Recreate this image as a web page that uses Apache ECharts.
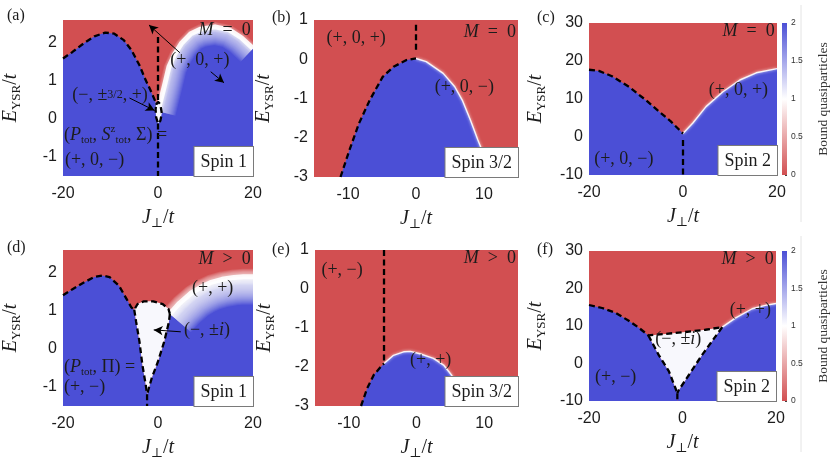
<!DOCTYPE html>
<html>
<head>
<meta charset="utf-8">
<script src="https://cdn.jsdelivr.net/npm/echarts@6/dist/echarts.min.js"></script>
<style>
  html, body { margin: 0; background: #fff; }
  #chart { width: 831px; height: 467px; }
</style>
</head>
<body>
<div id="chart"></div>
<script>
// ---- axis ranges and tick labels, panels (a)..(f)
const xRanges = [[-20, 20], [-15, 15], [-20, 20], [-20, 20], [-15, 15], [-20, 20]];
const yRanges = [[-1.5, 2.6], [-3, 1], [-10, 30], [-1.5, 2.6], [-3, 1], [-10, 30]];
const xTickVals = [[-20, 0, 20], [-10, 0, 10], [-20, 0, 20], [-20, 0, 20], [-10, 0, 10], [-20, 0, 20]];
const yTickVals = [[-1, 0, 1, 2], [-3, -2, -1, 0, 1], [-10, 0, 10, 20, 30],
                   [-1, 0, 1, 2], [-3, -2, -1, 0, 1], [-10, 0, 10, 20, 30]];
const panelLetters = ['(a)', '(b)', '(c)', '(d)', '(e)', '(f)'];
const spinNames = ['Spin 1', 'Spin 3/2', 'Spin 2', 'Spin 1', 'Spin 3/2', 'Spin 2'];
const cbMax = [2];   // colour bar: bound quasiparticles 0..2

// ---- (a) Spin 1, M = 0   (J_perp/t, E_YSR/t)
const aLeftEdge = [[-20, 1.59], [-18, 1.76], [-15.7, 1.98], [-13.4, 2.17], [-11.1, 2.27], [-9.2, 2.24],
                   [-7.2, 2.07], [-5.6, 1.81], [-3.9, 1.41], [-2.6, 1.02], [-1.6, 0.76], [-0.7, 0.5], [-0.3, 0.37]];
const aLoop = [[-0.4, 0.38], [0, 0.45], [0.5, 0.38], [0.8, 0.15], [0.5, -0.05], [0, -0.12], [-0.4, 0.05], [-0.5, 0.25], [-0.4, 0.38]];
const aVertTop = [[0, 2.15], [0, 0.45]];
const aVertLow = [[0, -0.12], [0, -1.5]];
const aDome = [[0, 0.2], [0.8, 0.6], [1.5, 0.95], [2.3, 1.37], [3.5, 1.7], [4.9, 1.98], [6.9, 2.24],
               [9, 2.36], [12, 2.42], [15, 2.34], [17.5, 2.14], [20, 1.85]];

// ---- (b) Spin 3/2, M = 0
const bLeftEdge = [[-11.1, -3], [-9.8, -2.32], [-8.4, -1.64], [-6.8, -1.04], [-4.9, -0.45], [-3.3, -0.19], [-1.4, -0.02], [0, 0.02]];
const bRightEdge = [[0, 0.02], [1.5, -0.06], [4, -0.36], [5.7, -0.7], [6.8, -1.04], [8, -1.55], [9.1, -2.06], [10.1, -2.49], [11.2, -3]];
const bVert = [[0, 0.88], [0, 0.15]];

// ---- (c) Spin 2, M = 0
const cLeftEdge = [[-20, 17.7], [-17.9, 17.4], [-15.1, 16], [-11.5, 13.2], [-7.9, 9.7], [-5.1, 6.7], [-2.6, 4.1], [-0.8, 1.9], [0, 0.9]];
const cRightEdge = [[0, 0.9], [2.1, 3.7], [4.9, 8], [8.5, 11.9], [12.1, 15], [15.6, 16.9], [20, 18]];
const cVert = [[0, -0.8], [0, -10]];

// ---- (d) Spin 1, M > 0
const dLeftEdge = [[-20, 1.41], [-18, 1.57], [-15.7, 1.74], [-13.4, 1.89], [-11.8, 1.93], [-10.2, 1.89],
                   [-8.2, 1.66], [-6.6, 1.31], [-5.6, 1.09], [-5, 1.03]];
const dDropTop = [[-5, 1.03], [-4.3, 1.18], [-3, 1.25], [-1, 1.25], [1, 1.18], [2.2, 1.05], [2.5, 0.92]];
const dDropL = [[-5, 1.03], [-4.6, 0.71], [-3.9, 0.19], [-3.3, -0.41], [-2.6, -0.93], [-2.3, -1.19]];
const dDropR = [[2.5, 0.92], [2.3, 0.71], [1.3, 0.19], [0, -0.33], [-1.3, -0.76], [-2, -1.06], [-2.3, -1.19]];
const dVert = [[-2.3, -1.19], [-2.3, -1.5]];
const dDome = [[2.5, 0.92], [3.2, 1.02], [4.5, 1.2], [7, 1.47], [9, 1.62], [11, 1.74], [13.5, 1.83], [16, 1.88], [18, 1.9], [20, 1.9]];

// ---- (e) Spin 3/2, M > 0
const eLeftEdge = [[-8.2, -3], [-7.3, -2.55], [-6.3, -2.2], [-5.3, -2], [-4.8, -1.91]];
const eDome = [[-4.8, -1.91], [-3.4, -1.7], [-1.9, -1.61], [-0.9, -1.6], [0.5, -1.66], [2.5, -1.78],
               [4, -1.95], [5.2, -2.21], [5.9, -2.47], [6.4, -3]];
const eVert = [[-4.8, 1], [-4.8, -1.91]];

// ---- (f) Spin 2, M > 0
const fLeftEdge = [[-20, 15.6], [-17.2, 14.8], [-14.3, 13.5], [-11.5, 11.4], [-9.3, 9.5], [-7.3, 7.5]];
const fTop = [[-7.3, 7.5], [-3.6, 7.9], [0.6, 8.4], [4.9, 9], [8.5, 9.7]];
const fTriR = [[8.5, 9.7], [4.2, 2.3], [1.4, -3], [-0.8, -7.1], [-1.1, -7.9]];
const fTriL = [[-7.3, 7.5], [-5.1, 2.3], [-2.9, -2.1], [-1.5, -6.6], [-1.1, -7.9]];
const fVert = [[-1.1, -7.9], [-1.1, -10]];
const fDome = [[8.5, 9.7], [11.3, 12.1], [14.9, 14.6], [17.7, 15.5], [20, 16]];

// ---- annotations [J, E, text, align]
const aNotes = [[19.5, 2.32, '{i|M}{n|\u2002=\u20020}', 'right'], [8.8, 1.55, '{n|(+, 0, +)}'],
                [-10.1, 0.63, '{n|(−, ±}{f|3/2}{n|, +)}'],
                [-19.8, -0.42, '{n|(}{i|P}{s|tot}{n|, }{i|S}{u|z}{s|tot}{n|, Σ) =}', 'left'],
                [-19.6, -1.08, '{n|(+, 0, −)}', 'left']];
const aArrows = [[[4.6, 1.74], [-1.9, 2.47]], [[11.1, 1.24], [13.9, 0.95]], [[-6, 0.55], [-0.7, 0.22]]];
const bNotes = [[-8.8, 0.54, '{n|(+, 0, +)}'], [14.7, 0.69, '{i|M}{n|\u2002=\u20020}', 'right'], [7.1, -0.72, '{n|(+, 0, −)}']];
const cNotes = [[19.5, 27.7, '{i|M}{n|\u2002=\u20020}', 'right'], [11.8, 12.3, '{n|(+, 0, +)}'], [-12.6, -5.9, '{n|(+, 0, −)}']];
const dNotes = [[19.5, 2.35, '{i|M}{n|\u2002>\u20020}', 'right'], [11.5, 1.6, '{n|(+, +)}'],
                [10.3, 0.5, '{n|(−, ±}{i|i}{n|)}'],
                [-19.8, -0.47, '{n|(}{i|P}{s|tot}{n|, Π) =}', 'left'], [-19.8, -1.0, '{n|(+, −)}', 'left']];
const dArrows = [[[4.8, 0.45], [-0.9, 0.5]]];
const eNotes = [[-11, 0.47, '{n|(+, −)}'], [14.7, 0.78, '{i|M}{n|\u2002>\u20020}', 'right'], [2.1, -1.82, '{n|(+, +)}']];
const fNotes = [[19.5, 27.9, '{i|M}{n|\u2002>\u20020}', 'right'], [14.5, 14.2, '{n|(+, +)}'],
                [-0.9, 6.4, '{n|(−, ±}{i|i}{n|)}'], [-14.3, -3.75, '{n|(+, −)}']];

// ---- styling
const SERIF = "'Liberation Serif','DejaVu Serif',serif";
const SANS = "'Liberation Sans',Arial,sans-serif";
const RED = '#d24f51', BLUE = '#4b4fd6', PALE = '#f8f8fd', INK = '#1c1c1c';

const grids = [
  { left: 50, top: 20, width: 203, height: 156 },
  { left: 314, top: 20, width: 204, height: 157 },
  { left: 589, top: 23, width: 188, height: 152 },
  { left: 50, top: 250, width: 203, height: 156 },
  { left: 315, top: 250, width: 203, height: 156 },
  { left: 589, top: 251, width: 187, height: 150 }
];
const cbGrids = [
  { left: 782, top: 23, width: 10, height: 152 },
  { left: 782, top: 251, width: 10, height: 150 }
];
const yNameGap = [40, 38, 41, 40, 38, 41];
const letterPos = [[7, 8], [272, 10], [537, 10], [7, 240], [272, 242], [537, 242]];

const AXR = {
  i: { fontFamily: SERIF, fontStyle: 'italic', fontSize: 20, lineHeight: 24, color: INK },
  n: { fontFamily: SERIF, fontSize: 20, lineHeight: 24, color: INK },
  s: { fontFamily: SERIF, fontSize: 13, lineHeight: 13, verticalAlign: 'bottom', color: INK }
};
const ANN = {
  i: { fontFamily: SERIF, fontStyle: 'italic', fontSize: 18, lineHeight: 22, color: INK },
  n: { fontFamily: SERIF, fontSize: 18, lineHeight: 22, color: INK },
  f: { fontFamily: SERIF, fontSize: 12, lineHeight: 22, color: INK },
  s: { fontFamily: SERIF, fontSize: 11, lineHeight: 11, verticalAlign: 'bottom', color: INK },
  u: { fontFamily: SERIF, fontSize: 11, lineHeight: 11, verticalAlign: 'top', color: INK },
  b: { fontFamily: SERIF, fontSize: 18, lineHeight: 22, color: INK }
};

function polySeries(ax, pts, color, z) {
  return {
    type: 'custom', xAxisIndex: ax, yAxisIndex: ax, data: [0], silent: true, z: z || 1, clip: true,
    renderItem: function (params, api) {
      return { type: 'polygon', shape: { points: pts.map(p => api.coord(p)) }, style: { fill: color } };
    }
  };
}

// stack of thin translucent white strokes, widest first, so the rim fades smoothly
function bands(pts, maxW, step, a) {
  const out = [];
  for (let w = maxW; w > 0; w -= step) {
    out.push({
      type: 'polyline', shape: { points: pts },
      style: { fill: 'none', stroke: 'rgba(255,255,255,' + a + ')', lineWidth: w, lineJoin: 'round' }
    });
  }
  return out;
}

// blue region whose rim fades through white into the red
function domeSeries(ax, edge, base, innerW, outerW) {
  return {
    type: 'custom', xAxisIndex: ax, yAxisIndex: ax, data: [0], silent: true, z: 2, clip: true,
    renderItem: function (params, api) {
      const region = edge.concat(base).map(p => api.coord(p));
      const rim = edge.map(p => api.coord(p));
      const core = { type: 'polyline', shape: { points: rim },
        style: { fill: 'none', stroke: 'rgba(255,255,255,0.9)', lineWidth: 5, lineJoin: 'round' } };
      return {
        type: 'group',
        children: [{ type: 'polygon', shape: { points: region }, style: { fill: BLUE } },
                   { type: 'group', clipPath: { type: 'polygon', shape: { points: region } },
                     children: bands(rim, innerW, 2, 0.075) }]
          .concat(bands(rim, outerW, 1.5, 0.11), [core])
      };
    }
  };
}

function dashSeries(ax, pts) {
  return {
    type: 'line', xAxisIndex: ax, yAxisIndex: ax, data: pts, symbol: 'none', silent: true, z: 5,
    lineStyle: { color: '#000', width: 2.3, type: [6, 3.5] }
  };
}

function rimSeries(ax, pts) {
  return {
    type: 'line', xAxisIndex: ax, yAxisIndex: ax, data: pts, symbol: 'none', silent: true, z: 4,
    lineStyle: { color: 'rgba(255,255,255,0.9)', width: 1.4, shadowBlur: 3, shadowColor: '#fff' }
  };
}

function noteSeries(ax, notes, arrows) {
  const data = notes.map(n => ({
    value: [n[0], n[1]],
    label: { formatter: n[2], align: n[3] || 'center', verticalAlign: 'middle' }
  }));
  data.push({
    value: [xRanges[ax][1], yRanges[ax][0]],
    label: {
      formatter: '{b|' + spinNames[ax] + '}', align: 'right', verticalAlign: 'bottom',
      backgroundColor: '#fff', borderColor: '#7a7a7a', borderWidth: 1, padding: [4, 6, 3, 6]
    }
  });
  const s = {
    type: 'scatter', xAxisIndex: ax, yAxisIndex: ax, symbolSize: 1, silent: true, z: 8,
    itemStyle: { color: 'rgba(0,0,0,0)', opacity: 1 },
    label: { show: true, position: 'inside', rich: ANN, opacity: 1 },
    data: data
  };
  if (arrows) {
    s.markLine = {
      silent: true, symbol: ['none', 'arrow'], symbolSize: [7, 9], animation: false,
      lineStyle: { color: '#000', width: 1, type: 'solid', opacity: 1 }, label: { show: false },
      data: arrows.map(a => [{ coord: a[0] }, { coord: a[1] }])
    };
  }
  return s;
}

const rev = a => a.slice().reverse();

const series = [
  // (a)
  polySeries(0, [[-20, -1.5]].concat(aLeftEdge, [[0, 0.2], [0, -1.5]]), BLUE),
  domeSeries(0, aDome, [[20, -1.5], [0, -1.5]], 36, 10),
  polySeries(0, aLoop, PALE, 3),
  dashSeries(0, aLeftEdge), dashSeries(0, aLoop), dashSeries(0, aVertTop), dashSeries(0, aVertLow),
  noteSeries(0, aNotes, aArrows),
  // (b)
  polySeries(1, bLeftEdge.concat(bRightEdge.slice(1)), BLUE),
  rimSeries(1, bRightEdge),
  dashSeries(1, bLeftEdge), dashSeries(1, bVert),
  noteSeries(1, bNotes),
  // (c)
  polySeries(2, [[-20, -10]].concat(cLeftEdge, cRightEdge.slice(1), [[20, -10]]), BLUE),
  rimSeries(2, cRightEdge),
  dashSeries(2, cLeftEdge), dashSeries(2, cVert),
  noteSeries(2, cNotes),
  // (d)
  polySeries(3, [[-20, -1.5]].concat(dLeftEdge, dDropL.slice(1), [[-2.3, -1.5]]), BLUE),
  domeSeries(3, dDome, [[20, -1.5], [-2.3, -1.5]].concat(rev(dDropR)), 56, 16),
  polySeries(3, dDropTop.concat(dDropR.slice(1), rev(dDropL).slice(1)), PALE, 3),
  dashSeries(3, dLeftEdge.concat(dDropTop.slice(1))), dashSeries(3, dDropL), dashSeries(3, dDropR), dashSeries(3, dVert),
  noteSeries(3, dNotes, dArrows),
  // (e)
  polySeries(4, eLeftEdge.concat(eDome.slice(1)), BLUE),
  rimSeries(4, eDome),
  dashSeries(4, eLeftEdge), dashSeries(4, eVert),
  noteSeries(4, eNotes),
  // (f)
  polySeries(5, [[-20, -10]].concat(fLeftEdge, fTriL.slice(1), [[-1.1, -10]]), BLUE),
  polySeries(5, [[-1.1, -10]].concat(rev(fTriR), fDome.slice(1), [[20, -10]]), BLUE),
  polySeries(5, fTop.concat(fTriR.slice(1), rev(fTriL).slice(1)), PALE, 3),
  rimSeries(5, fDome),
  dashSeries(5, fLeftEdge.concat(fTop.slice(1))), dashSeries(5, fTriL), dashSeries(5, fTriR), dashSeries(5, fVert),
  noteSeries(5, fNotes)
];

// colour bars
const cbGradient = new echarts.graphic.LinearGradient(0, 1, 0, 0, [
  { offset: 0, color: RED }, { offset: 0.5, color: '#ffffff' }, { offset: 1, color: BLUE }
]);
[6, 7].forEach(ax => series.push({
  type: 'bar', xAxisIndex: ax, yAxisIndex: ax, data: cbMax, barWidth: '100%', silent: true,
  itemStyle: { color: cbGradient }
}));

const xAxis = [], yAxis = [];
grids.forEach((g, i) => {
  xAxis.push({
    type: 'value', gridIndex: i, min: xRanges[i][0], max: xRanges[i][1],
    axisLine: { show: false }, axisTick: { show: false }, splitLine: { show: false },
    axisLabel: { customValues: xTickVals[i], fontFamily: SANS, fontSize: 16, color: INK, margin: 10 },
    name: '{i|J}{s|⊥}{n|/}{i|t}', nameLocation: 'middle', nameGap: 30, nameMoveOverlap: false,
    nameTextStyle: { rich: AXR }
  });
  yAxis.push({
    type: 'value', gridIndex: i, min: yRanges[i][0], max: yRanges[i][1],
    axisLine: { show: false }, axisTick: { show: false }, splitLine: { show: false },
    axisLabel: { customValues: yTickVals[i], fontFamily: SANS, fontSize: 16, color: INK, margin: 6 },
    name: '{i|E}{s|YSR}{n|/}{i|t}', nameLocation: 'middle', nameRotate: 90, nameGap: yNameGap[i],
    nameMoveOverlap: false, nameTextStyle: { rich: AXR }
  });
});
cbGrids.forEach((g, k) => {
  const i = 6 + k;
  xAxis.push({ type: 'category', gridIndex: i, data: ['n'], show: false, boundaryGap: true });
  yAxis.push({
    type: 'value', gridIndex: i, position: 'right', min: 0, max: 2, interval: 0.5,
    axisLine: { show: false }, splitLine: { show: false },
    axisTick: { show: true, inside: true, length: 2, lineStyle: { color: '#444' } },
    axisLabel: { fontFamily: SANS, fontSize: 8.5, color: '#333', margin: 4 },
    name: 'Bound quasiparticles', nameLocation: 'middle', nameRotate: 90, nameGap: 29,
    nameMoveOverlap: false, nameTextStyle: { fontFamily: SERIF, fontSize: 13.5, color: '#333' }
  });
});

const option = {
  animation: false,
  backgroundColor: '#fff',
  title: panelLetters.map((t, i) => ({
    text: t, left: letterPos[i][0], top: letterPos[i][1], padding: 0,
    textStyle: { fontFamily: SERIF, fontSize: 16, fontWeight: 'normal', color: INK }
  })),
  grid: grids.map(g => Object.assign({ show: true, backgroundColor: RED, borderWidth: 0 }, g))
    .concat(cbGrids.map(g => Object.assign({ show: false }, g))),
  xAxis: xAxis,
  yAxis: yAxis,
  graphic: [
    { type: 'line', shape: { x1: 801, y1: 5, x2: 801, y2: 222 }, style: { stroke: '#e4e4e4', lineWidth: 1 } },
    { type: 'line', shape: { x1: 801, y1: 236, x2: 801, y2: 452 }, style: { stroke: '#e4e4e4', lineWidth: 1 } }
  ],
  series: series
};

const chart = echarts.init(document.getElementById('chart'));
chart.setOption(option);
</script>
</body>
</html>
